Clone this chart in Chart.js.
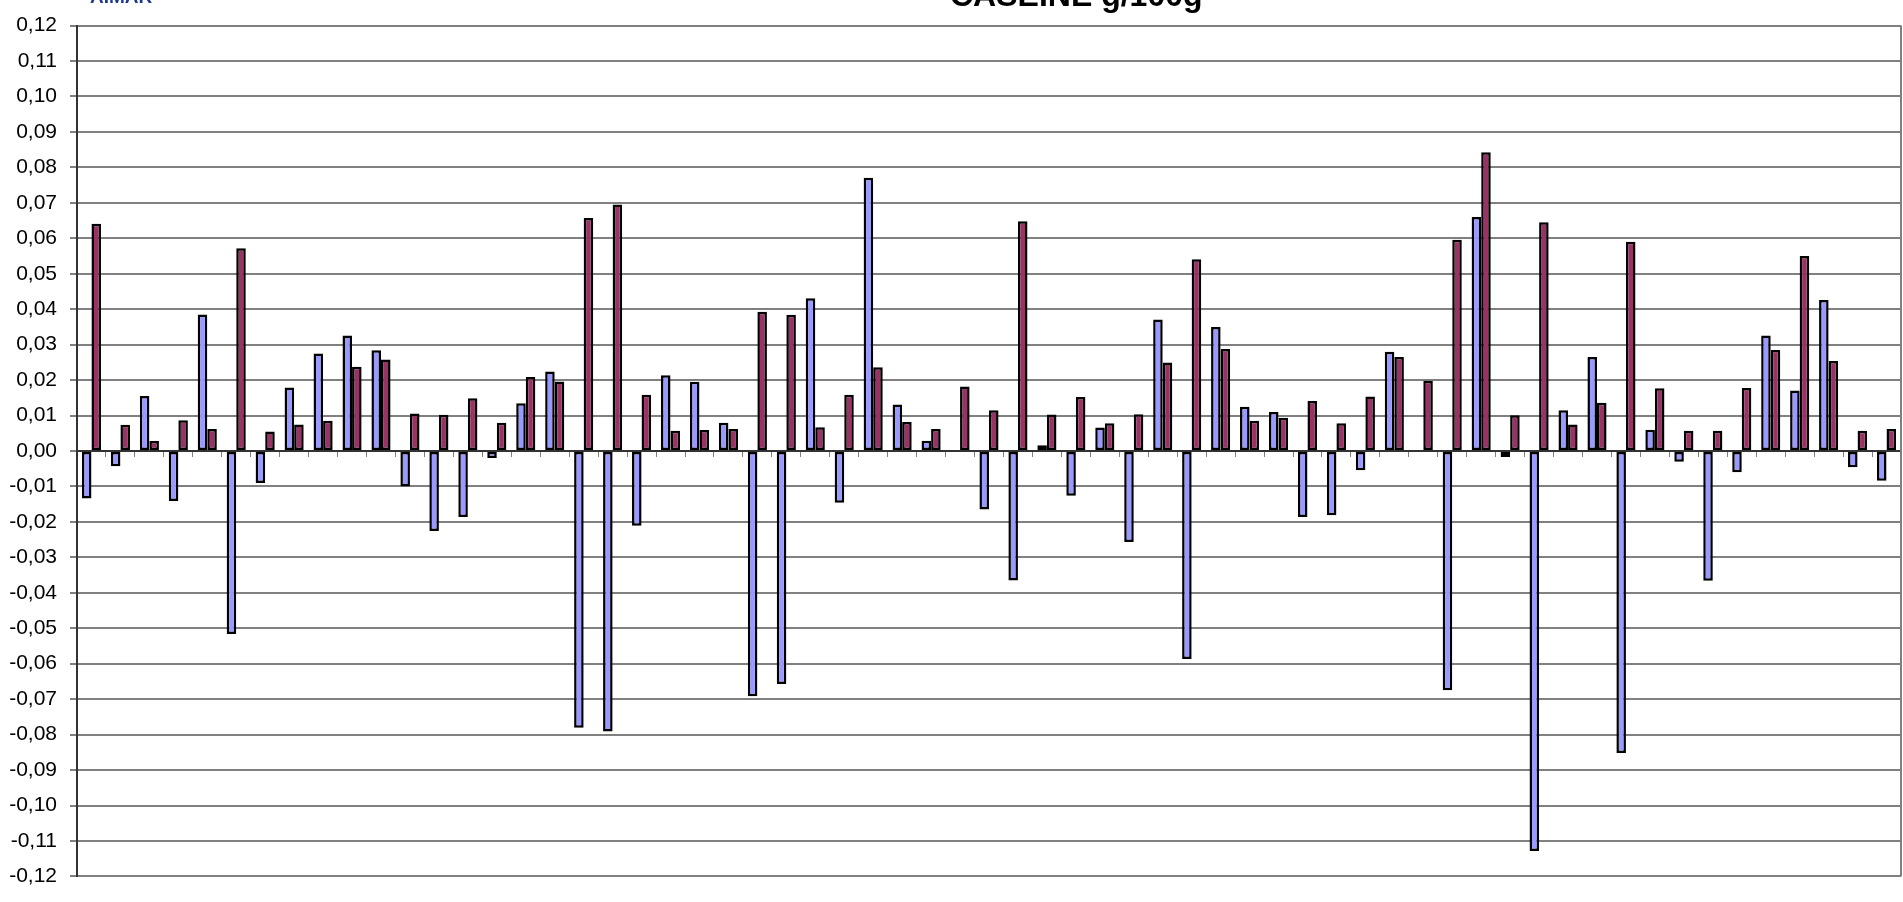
<!DOCTYPE html>
<html>
<head>
<meta charset="utf-8">
<title>CASEINE g/100g</title>
<script src="https://cdn.jsdelivr.net/npm/chart.js@4.4.1/dist/chart.umd.min.js"></script>
<style>
    body { margin: 0; background: #fff; overflow: hidden; }
    #wrap { position: relative; width: 1903px; height: 902px; }
    #logo { position: absolute; left: 90px; top: -13px; font: bold 19px Arial, "Liberation Sans", sans-serif; line-height: 19px; color: #1f3a8f; }
    #title { position: absolute; left: 950px; top: -21px; font: bold 32px Arial, "Liberation Sans", sans-serif; line-height: 32px; color: #000; white-space: nowrap; }
</style>
</head>
<body>
<div id="wrap">
    <canvas id="caseineChart" width="1903" height="902"></canvas>
    <div id="logo">AIMAR</div>
    <div id="title">CASEINE g/100g</div>
</div>
<script>
// 63 samples, no visible labels on the category axis
const categories = Array.from({ length: 63 }, (_, i) => String(i + 1));

const serie1 = [
    -0.0134, -0.0043, 0.0155, -0.0141, 0.0385, -0.0516, -0.0090, 0.0179, 0.0275, 0.0326,
    0.0284, -0.0100, -0.0226, -0.0186, -0.0020, 0.0135, 0.0224, -0.0781, -0.0791, -0.0211,
    0.0214, 0.0195, 0.0080, -0.0692, -0.0657, 0.0431, -0.0146, 0.0771, 0.0131, 0.0029,
    -0.0003, -0.0165, -0.0365, 0.0016, -0.0126, 0.0066, -0.0257, 0.0371, -0.0587, 0.0350,
    0.0125, 0.0110, -0.0186, -0.0181, -0.0054, 0.0280, 0.0003, -0.0675, 0.0660, -0.0017,
    -0.1128, 0.0115, 0.0265, -0.0852, 0.0060, -0.0030, -0.0366, -0.0060, 0.0326, 0.0171,
    0.0426, -0.0046, -0.0084
];

const serie2 = [
    0.0641, 0.0074, 0.0028, 0.0087, 0.0062, 0.0572, 0.0055, 0.0075, 0.0085, 0.0238,
    0.0258, 0.0106, 0.0102, 0.0149, 0.0080, 0.0209, 0.0196, 0.0657, 0.0695, 0.0159,
    0.0057, 0.0059, 0.0062, 0.0393, 0.0384, 0.0067, 0.0159, 0.0236, 0.0082, 0.0062,
    0.0182, 0.0115, 0.0648, 0.0103, 0.0152, 0.0078, 0.0104, 0.0250, 0.0541, 0.0288,
    0.0085, 0.0094, 0.0141, 0.0078, 0.0154, 0.0265, 0.0198, 0.0596, 0.0843, 0.0101,
    0.0645, 0.0075, 0.0136, 0.0590, 0.0177, 0.0057, 0.0057, 0.0178, 0.0285, 0.0550,
    0.0254, 0.0057, 0.0062
];

const yMin = -0.12;
const yMax = 0.12;
const yStep = 0.01;

// right edge of the plot area, like the Excel frame
const rightBorder = {
    id: 'rightBorder',
    afterDraw(chart) {
        const { ctx, chartArea } = chart;
        ctx.save();
        ctx.strokeStyle = '#808080';
        ctx.lineWidth = 2;
        ctx.beginPath();
        ctx.moveTo(chartArea.right, chartArea.top);
        ctx.lineTo(chartArea.right, chartArea.bottom);
        ctx.stroke();
        ctx.restore();
    }
};

const ctx = document.getElementById('caseineChart').getContext('2d');
new Chart(ctx, {
    type: 'bar',
    data: {
        labels: categories,
        datasets: [{
            label: 'Série 1',
            data: serie1,
            backgroundColor: '#9999FF',
            borderColor: '#000000',
            borderWidth: 2.5,
            borderSkipped: false
        },
        {
            label: 'Série 2',
            data: serie2,
            backgroundColor: '#993366',
            borderColor: '#000000',
            borderWidth: 2.5,
            borderSkipped: false
        }]
    },
    options: {
        responsive: false,
        animation: false,
        devicePixelRatio: 1,
        layout: {
            padding: { left: 0, right: 2, top: 19, bottom: 13 }
        },
        datasets: {
            bar: {
                categoryPercentage: 0.66,
                barPercentage: 1.0
            }
        },
        plugins: {
            legend: { display: false },
            title: { display: false },
            tooltip: { enabled: false }
        },
        scales: {
            y: {
                min: yMin,
                max: yMax,
                afterFit: function (scale) {
                    scale.width = 77;
                },
                ticks: {
                    stepSize: yStep,
                    color: '#000',
                    padding: 13,
                    font: { family: 'Arial, "Liberation Sans", sans-serif', size: 21 },
                    callback: function (value) {
                        const v = Math.abs(value) < 1e-9 ? 0 : value;
                        return v.toFixed(2).replace('.', ',');
                    }
                },
                grid: {
                    color: '#808080',
                    lineWidth: 2,
                    tickLength: 7
                },
                border: {
                    color: '#333',
                    width: 2
                }
            },
            x: {
                position: { y: 0 },
                ticks: { display: false },
                grid: {
                    offset: true,
                    drawOnChartArea: false,
                    tickLength: 5,
                    color: '#808080'
                },
                border: {
                    color: '#333',
                    width: 2
                }
            }
        }
    },
    plugins: [rightBorder]
});
</script>
</body>
</html>
